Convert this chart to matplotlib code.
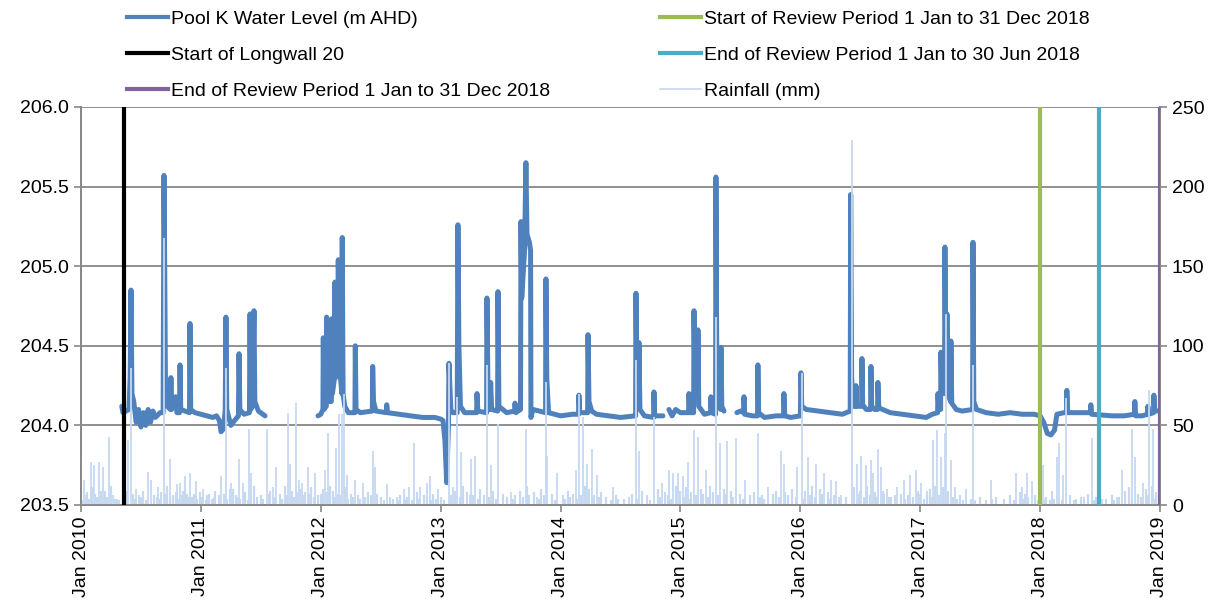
import numpy as np
import matplotlib
matplotlib.use("Agg")
import matplotlib.pyplot as plt
from matplotlib.lines import Line2D
from matplotlib.ticker import FormatStrFormatter

plt.rcParams['font.family'] = ['Liberation Sans', 'DejaVu Sans']

# Pool K water level (decimal year, m AHD); nan marks gaps in the record
wl_t = [2010.34, 2010.35, 2010.40, 2010.41, 2010.417, 2010.425, 2010.44, 2010.46, 2010.48, 2010.50,
        2010.52, 2010.54, 2010.56, 2010.58, 2010.60, 2010.62, 2010.66, 2010.685, 2010.692, 2010.698,
        2010.705, 2010.72, 2010.745, 2010.75, 2010.756, 2010.79, 2010.80, 2010.822, 2010.826, 2010.832,
        2010.905, 2010.909, 2010.915, 2010.95, 2011.0, 2011.05, 2011.10, 2011.13, 2011.155, 2011.168,
        2011.19, 2011.203, 2011.209, 2011.216, 2011.25, 2011.28, 2011.313, 2011.318, 2011.325, 2011.36,
        2011.405, 2011.41, 2011.416, 2011.43, 2011.443, 2011.45, 2011.48, 2011.535, 2011.54,
        2011.977, 2012.0, 2012.018, 2012.021, 2012.026, 2012.046, 2012.049, 2012.055, 2012.088, 2012.091,
        2012.097, 2012.115, 2012.118, 2012.124, 2012.143, 2012.146, 2012.152, 2012.176, 2012.179, 2012.186,
        2012.2, 2012.23, 2012.285, 2012.288, 2012.294, 2012.33, 2012.43, 2012.433, 2012.44, 2012.46,
        2012.548, 2012.55, 2012.556, 2012.65, 2012.75, 2012.85, 2012.95, 2013.0, 2013.02, 2013.036,
        2013.05, 2013.065, 2013.069, 2013.075, 2013.085, 2013.1, 2013.138, 2013.144, 2013.152, 2013.165,
        2013.2, 2013.30, 2013.303, 2013.31, 2013.383, 2013.386, 2013.395, 2013.41, 2013.417, 2013.425,
        2013.475, 2013.478, 2013.486, 2013.55, 2013.617, 2013.62, 2013.627, 2013.666, 2013.67, 2013.676,
        2013.70, 2013.711, 2013.72, 2013.74, 2013.75, 2013.753, 2013.77, 2013.875, 2013.878, 2013.885,
        2013.90, 2013.95, 2014.0, 2014.1, 2014.15, 2014.153, 2014.16, 2014.226, 2014.229, 2014.237,
        2014.26, 2014.3, 2014.4, 2014.5, 2014.626, 2014.629, 2014.636, 2014.65, 2014.654, 2014.662,
        2014.70, 2014.776, 2014.779, 2014.785, 2014.854, 2014.855,
        2014.904, 2014.93, 2014.96, 2015.0, 2015.068, 2015.071, 2015.078, 2015.11, 2015.113, 2015.12,
        2015.143, 2015.146, 2015.153, 2015.2, 2015.251, 2015.254, 2015.26, 2015.293, 2015.296, 2015.303,
        2015.335, 2015.338, 2015.345, 2015.363, 2015.364,
        2015.471, 2015.50, 2015.527, 2015.53, 2015.536, 2015.60, 2015.643, 2015.646, 2015.652, 2015.70,
        2015.80, 2015.86, 2015.863, 2015.87, 2015.92, 2016.0, 2016.005, 2016.012, 2016.05, 2016.15,
        2016.25, 2016.35, 2016.416, 2016.42, 2016.428, 2016.44, 2016.462, 2016.464, 2016.47, 2016.49,
        2016.511, 2016.514, 2016.52, 2016.55, 2016.586, 2016.589, 2016.595, 2016.62, 2016.644, 2016.647,
        2016.655, 2016.75, 2016.85, 2016.95, 2017.05, 2017.10, 2017.145, 2017.148, 2017.155, 2017.17,
        2017.173, 2017.18, 2017.203, 2017.206, 2017.213, 2017.22, 2017.223, 2017.23, 2017.253, 2017.256,
        2017.263, 2017.30, 2017.35, 2017.437, 2017.44, 2017.447, 2017.47, 2017.55, 2017.65, 2017.75,
        2017.85, 2017.95, 2018.0, 2018.03, 2018.06, 2018.09, 2018.12, 2018.14, 2018.2, 2018.22,
        2018.223, 2018.23, 2018.3, 2018.42, 2018.423, 2018.43, 2018.6, 2018.7, 2018.786, 2018.79,
        2018.797, 2018.85, 2018.896, 2018.899, 2018.905, 2018.946, 2018.949, 2018.955, 2018.974]
wl_v = [204.12, 204.08, 204.10, 204.30, 204.85, 204.20, 204.15, 204.02, 204.10, 203.99,
        204.08, 204.00, 204.10, 204.02, 204.09, 204.05, 204.08, 204.08, 205.57, 205.00,
        204.20, 204.12, 204.10, 204.30, 204.10, 204.18, 204.08, 204.08, 204.38, 204.10,
        204.08, 204.64, 204.10, 204.08, 204.07, 204.06, 204.05, 204.06, 204.03, 203.96,
        203.98, 204.10, 204.68, 204.10, 204.00, 204.03, 204.06, 204.45, 204.10, 204.07,
        204.08, 204.70, 204.10, 204.12, 204.72, 204.15, 204.09, 204.06, np.nan,
        204.06, 204.07, 204.10, 204.55, 204.10, 204.12, 204.68, 204.15, 204.15, 204.67,
        204.20, 204.30, 204.90, 204.30, 204.40, 205.04, 204.40, 204.20, 205.18, 204.20,
        204.12, 204.08, 204.08, 204.50, 204.10, 204.08, 204.09, 204.37, 204.15, 204.09,
        204.08, 204.13, 204.08, 204.07, 204.06, 204.05, 204.05, 204.04, 204.03, 203.90,
        203.64, 204.00, 204.39, 204.28, 204.10, 204.08, 204.08, 205.26, 204.50, 204.12,
        204.08, 204.08, 204.20, 204.09, 204.08, 204.80, 204.20, 204.10, 204.27, 204.10,
        204.09, 204.84, 204.12, 204.08, 204.09, 204.14, 204.08, 204.10, 205.28, 204.80,
        205.10, 205.65, 205.20, 205.15, 205.10, 204.05, 204.10, 204.08, 204.92, 204.30,
        204.08, 204.07, 204.06, 204.07, 204.07, 204.19, 204.08, 204.08, 204.57, 204.15,
        204.09, 204.07, 204.06, 204.05, 204.06, 204.83, 204.30, 204.20, 204.52, 204.10,
        204.06, 204.05, 204.21, 204.06, 204.06, np.nan,
        204.10, 204.06, 204.10, 204.08, 204.08, 204.20, 204.08, 204.08, 204.72, 204.30,
        204.25, 204.60, 204.12, 204.07, 204.08, 204.18, 204.08, 204.07, 205.56, 204.40,
        204.10, 204.49, 204.12, 204.09, np.nan,
        204.08, 204.09, 204.08, 204.18, 204.07, 204.06, 204.06, 204.38, 204.08, 204.05,
        204.06, 204.06, 204.20, 204.06, 204.05, 204.06, 204.33, 204.12, 204.10, 204.09,
        204.08, 204.07, 204.09, 205.45, 204.30, 204.12, 204.12, 204.25, 204.12, 204.12,
        204.12, 204.42, 204.13, 204.10, 204.10, 204.37, 204.12, 204.10, 204.10, 204.27,
        204.11, 204.08, 204.07, 204.06, 204.05, 204.07, 204.08, 204.20, 204.10, 204.10,
        204.46, 204.20, 204.20, 205.12, 204.40, 204.30, 204.70, 204.20, 204.15, 204.53,
        204.14, 204.10, 204.09, 204.10, 205.15, 204.15, 204.10, 204.08, 204.07, 204.08,
        204.07, 204.07, 204.06, 204.02, 203.95, 203.94, 203.97, 204.07, 204.08, 204.08,
        204.22, 204.08, 204.08, 204.08, 204.13, 204.07, 204.06, 204.06, 204.07, 204.15,
        204.06, 204.06, 204.07, 204.12, 204.07, 204.08, 204.19, 204.10, 204.09]

# daily rainfall (decimal year, mm) - larger falls
rain_t = [2010.0, 2010.025, 2010.083, 2010.11, 2010.153, 2010.18, 2010.236, 2010.27, 2010.367, 2010.39,
          2010.414, 2010.46, 2010.56, 2010.58, 2010.645, 2010.695, 2010.742, 2010.798, 2010.826, 2010.867,
          2010.909, 2010.96, 2011.02, 2011.168, 2011.207, 2011.248, 2011.32, 2011.354, 2011.404, 2011.418,
          2011.465, 2011.55, 2011.6, 2011.63, 2011.73, 2011.743, 2011.79, 2011.816, 2011.846, 2011.896,
          2011.95, 2012.035, 2012.06, 2012.127, 2012.155, 2012.174, 2012.19, 2012.216, 2012.285, 2012.355,
          2012.433, 2012.452, 2012.55, 2012.633, 2012.69, 2012.74, 2012.777, 2012.827, 2012.883, 2012.91,
          2012.98, 2013.07, 2013.105, 2013.14, 2013.167, 2013.244, 2013.25, 2013.29, 2013.384, 2013.417,
          2013.48, 2013.586, 2013.71, 2013.806, 2013.876, 2013.89, 2013.967, 2014.13, 2014.156, 2014.184,
          2014.218, 2014.26, 2014.3, 2014.44, 2014.57, 2014.626, 2014.654, 2014.78, 2014.843, 2014.904,
          2014.94, 2014.98, 2015.02, 2015.065, 2015.115, 2015.148, 2015.21, 2015.296, 2015.33, 2015.39,
          2015.46, 2015.54, 2015.644, 2015.73, 2015.836, 2015.863, 2015.975, 2016.01, 2016.066, 2016.13,
          2016.197, 2016.255, 2016.3, 2016.34, 2016.43, 2016.47, 2016.51, 2016.547, 2016.586, 2016.608,
          2016.65, 2016.672, 2016.72, 2016.808, 2016.864, 2016.914, 2016.964, 2017.01, 2017.053, 2017.108,
          2017.14, 2017.17, 2017.206, 2017.215, 2017.253, 2017.29, 2017.38, 2017.44, 2017.587, 2017.8,
          2017.846, 2017.888, 2017.93, 2018.02, 2018.137, 2018.16, 2018.19, 2018.22, 2018.365, 2018.43,
          2018.5, 2018.64, 2018.68, 2018.765, 2018.79, 2018.855, 2018.91, 2018.945, 2018.998]
rain_mm = [30, 16, 27, 25, 27, 24, 43, 6, 16, 41,
           86, 10, 21, 16, 11, 168, 29, 13, 14, 18,
           20, 15, 10, 18, 86, 14, 29, 14, 48, 20,
           5, 48, 11, 24, 58, 26, 64, 16, 14, 24,
           20, 22, 45, 36, 57, 57, 70, 19, 16, 14,
           34, 24, 13, 5, 10, 11, 39, 11, 14, 18,
           10, 89, 11, 68, 33, 6, 29, 31, 88, 25,
           51, 8, 48, 5, 77, 31, 20, 22, 70, 55,
           26, 35, 19, 11, 5, 91, 34, 55, 14, 22,
           20, 20, 18, 27, 47, 43, 22, 118, 39, 40,
           42, 16, 45, 11, 34, 26, 24, 83, 30, 26,
           20, 16, 15, 6, 229, 26, 31, 25, 28, 20,
           35, 24, 10, 11, 16, 19, 22, 14, 9, 41,
           47, 30, 45, 120, 28, 11, 10, 88, 16, 20,
           11, 20, 15, 25, 30, 39, 19, 67, 5, 42,
           14, 5, 22, 48, 30, 14, 72, 48, 11]

# daily rainfall - small falls that fill the base of the chart
small_t = [2010.01, 2010.04, 2010.05, 2010.07, 2010.09, 2010.12, 2010.13, 2010.14, 2010.17, 2010.2,
           2010.22, 2010.25, 2010.28, 2010.3, 2010.32, 2010.35, 2010.38, 2010.43, 2010.45, 2010.48,
           2010.5, 2010.52, 2010.54, 2010.61, 2010.63, 2010.66, 2010.67, 2010.7, 2010.72, 2010.74,
           2010.77, 2010.79, 2010.81, 2010.84, 2010.85, 2010.87, 2010.88, 2010.9, 2010.93, 2010.94,
           2010.97, 2010.99, 2011.01, 2011.04, 2011.05, 2011.07, 2011.09, 2011.11, 2011.12, 2011.15,
           2011.19, 2011.22, 2011.24, 2011.27, 2011.29, 2011.3, 2011.33, 2011.37, 2011.39, 2011.42,
           2011.44, 2011.47, 2011.5, 2011.52, 2011.57, 2011.58, 2011.62, 2011.66, 2011.68, 2011.7,
           2011.72, 2011.76, 2011.78, 2011.8, 2011.83, 2011.85, 2011.87, 2011.9, 2011.92, 2011.94,
           2011.98, 2012.0, 2012.02, 2012.05, 2012.08, 2012.1, 2012.12, 2012.14, 2012.17, 2012.2,
           2012.23, 2012.25, 2012.27, 2012.31, 2012.33, 2012.37, 2012.39, 2012.42, 2012.47, 2012.5,
           2012.53, 2012.58, 2012.6, 2012.64, 2012.66, 2012.7, 2012.72, 2012.76, 2012.8, 2012.82,
           2012.86, 2012.89, 2012.92, 2012.94, 2012.96, 2013.0, 2013.03, 2013.09, 2013.12, 2013.16,
           2013.19, 2013.22, 2013.27, 2013.31, 2013.33, 2013.36, 2013.4, 2013.44, 2013.46, 2013.52,
           2013.55, 2013.6, 2013.62, 2013.66, 2013.69, 2013.72, 2013.74, 2013.78, 2013.82, 2013.84,
           2013.86, 2013.93, 2013.95, 2014.02, 2014.04, 2014.06, 2014.08, 2014.1, 2014.14, 2014.17,
           2014.2, 2014.22, 2014.24, 2014.28, 2014.32, 2014.34, 2014.38, 2014.42, 2014.46, 2014.48,
           2014.53, 2014.6, 2014.64, 2014.68, 2014.72, 2014.75, 2014.81, 2014.83, 2014.87, 2014.9,
           2014.92, 2014.96, 2015.0, 2015.04, 2015.05, 2015.08, 2015.09, 2015.13, 2015.17, 2015.19,
           2015.23, 2015.25, 2015.27, 2015.31, 2015.36, 2015.38, 2015.42, 2015.44, 2015.5, 2015.52,
           2015.58, 2015.61, 2015.66, 2015.68, 2015.7, 2015.77, 2015.8, 2015.82, 2015.87, 2015.9,
           2015.93, 2015.96, 2016.03, 2016.04, 2016.08, 2016.1, 2016.12, 2016.16, 2016.18, 2016.23,
           2016.25, 2016.28, 2016.32, 2016.38, 2016.45, 2016.49, 2016.5, 2016.53, 2016.56, 2016.58,
           2016.62, 2016.64, 2016.69, 2016.7, 2016.74, 2016.76, 2016.79, 2016.84, 2016.87, 2016.9,
           2016.94, 2016.98, 2017.0, 2017.03, 2017.06, 2017.08, 2017.1, 2017.12, 2017.16, 2017.19,
           2017.23, 2017.27, 2017.31, 2017.33, 2017.36, 2017.42, 2017.46, 2017.5, 2017.55, 2017.6,
           2017.63, 2017.7, 2017.75, 2017.78, 2017.83, 2017.86, 2017.87, 2017.9, 2017.96, 2017.98,
           2018.04, 2018.05, 2018.08, 2018.1, 2018.12, 2018.18, 2018.25, 2018.28, 2018.3, 2018.34,
           2018.4, 2018.45, 2018.47, 2018.52, 2018.55, 2018.6, 2018.62, 2018.66, 2018.71, 2018.74,
           2018.77, 2018.82, 2018.84, 2018.88, 2018.9, 2018.93, 2018.96, 2018.97]
small_mm = [3, 6, 8, 4, 11, 7, 5, 3, 9, 9,
            5, 12, 4, 4, 3, 6, 9, 7, 4, 6,
            5, 9, 3, 6, 5, 4, 8, 7, 12, 5,
            6, 8, 4, 6, 9, 10, 7, 5, 5, 7,
            4, 8, 5, 3, 6, 7, 4, 5, 9, 6,
            7, 4, 10, 10, 6, 5, 4, 8, 3, 6,
            12, 5, 6, 4, 7, 9, 5, 7, 4, 12,
            6, 9, 5, 8, 10, 6, 8, 7, 11, 5,
            6, 7, 10, 8, 12, 9, 5, 7, 6, 11,
            4, 7, 5, 6, 4, 5, 8, 6, 7, 5,
            3, 5, 4, 3, 6, 4, 5, 3, 8, 4,
            6, 5, 3, 7, 4, 5, 3, 6, 9, 5,
            12, 8, 6, 4, 10, 6, 5, 9, 4, 7,
            5, 4, 6, 9, 5, 12, 6, 8, 4, 10,
            6, 7, 3, 6, 4, 9, 5, 7, 4, 6,
            12, 5, 10, 6, 5, 8, 5, 3, 6, 4,
            4, 7, 4, 9, 6, 3, 10, 5, 8, 6,
            4, 12, 9, 5, 11, 4, 8, 6, 10, 7,
            5, 12, 8, 6, 10, 7, 9, 5, 7, 4,
            6, 8, 5, 6, 4, 7, 9, 5, 8, 6,
            10, 5, 4, 9, 6, 12, 5, 10, 7, 8,
            4, 6, 5, 5, 11, 7, 9, 5, 12, 6,
            8, 5, 9, 7, 5, 5, 6, 7, 4, 6,
            5, 9, 7, 4, 6, 10, 5, 12, 6, 11,
            9, 5, 4, 6, 3, 4, 3, 5, 3, 4,
            5, 4, 6, 3, 8, 4, 7, 5, 6, 3,
            4, 5, 3, 9, 4, 3, 6, 3, 4, 5,
            7, 3, 5, 4, 4, 6, 3, 5, 9, 11,
            4, 7, 5, 10, 6, 12, 4, 8]

# event dates (decimal year)
longwall20 = 2010.36
review_start = 2018.0
review_end_jun = 2018.495
review_end_dec = 2019.0

years = list(range(2010, 2020))
year_labels = ['Jan %d' % y for y in years]

c_wl = '#4f81bd'
c_rain = '#c6d9f1'
c_grid = '#878787'

fig = plt.figure(figsize=(12.26, 6.08), dpi=100)
ax = fig.add_axes([81 / 1226, 1 - 505 / 608, (1160 - 81) / 1226, (505 - 107) / 608])
ax2 = ax.twinx()

ax.plot(wl_t, wl_v, color=c_wl, lw=3.6, solid_joinstyle='round', solid_capstyle='round', zorder=3)
ax2.vlines(small_t, 0, small_mm, color=c_rain, lw=1.6, zorder=2)
ax2.vlines(rain_t, 0, rain_mm, color=c_rain, lw=1.3, zorder=2)
ax2.axvline(longwall20, color='black', lw=3, zorder=4)
ax2.axvline(review_start, color='#9bbb59', lw=3, zorder=4)
ax2.axvline(review_end_jun, color='#4bacc6', lw=3, zorder=4)
ax2.axvline(review_end_dec, color='#8064a2', lw=3, zorder=4)

ax.set_xlim(2010, 2019)
ax.set_ylim(203.5, 206.0)
ax2.set_ylim(0, 250)
ax.set_yticks(np.arange(203.5, 206.01, 0.5))
ax2.set_yticks(np.arange(0, 251, 50))
ax.yaxis.set_major_formatter(FormatStrFormatter('%.1f'))
ax.set_xticks(years)
ax.set_xticklabels(year_labels, rotation=90)

ax.grid(axis='y', color=c_grid, lw=1.3)
ax.set_axisbelow(True)
for a in (ax, ax2):
    a.spines['top'].set_visible(False)
    for s in ('left', 'right', 'bottom'):
        a.spines[s].set_color(c_grid)
        a.spines[s].set_linewidth(1.3)
    a.tick_params(labelsize=14, colors='black', length=5, width=1.2)
    a.tick_params(axis='both', color=c_grid)

# legend: two columns placed separately
h = lambda c, lw=3: Line2D([], [], color=c, lw=lw)
leg_kw = dict(frameon=False, fontsize=14, handlelength=2.1, handletextpad=0.15,
              labelspacing=0.95, borderpad=0, borderaxespad=0, loc='upper left')
fig.legend([h(c_wl), h('black'), h('#8064a2')],
           ['Pool K Water Level (m AHD)', 'Start of Longwall 20',
            'End of Review Period 1 Jan to 31 Dec 2018'],
           bbox_to_anchor=(127 / 1226, 1 - 10 / 608), **leg_kw)
fig.legend([h('#9bbb59'), h('#4bacc6'), h(c_rain, 1.2)],
           ['Start of Review Period 1 Jan to 31 Dec 2018',
            'End of Review Period 1 Jan to 30 Jun 2018', 'Rainfall (mm)'],
           bbox_to_anchor=(660 / 1226, 1 - 10 / 608), **leg_kw)

fig.savefig('out.png', dpi=100)
